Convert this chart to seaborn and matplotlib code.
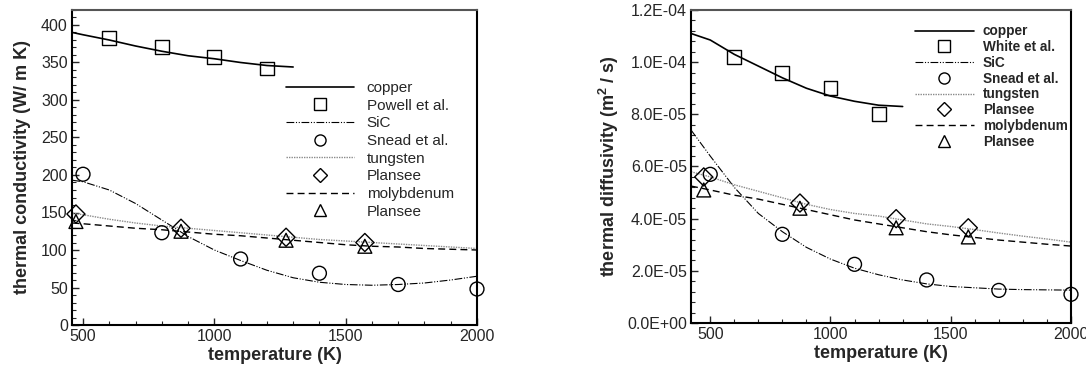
import numpy as np
import pandas as pd
import matplotlib
matplotlib.use("Agg")
import matplotlib.pyplot as plt
from matplotlib.lines import Line2D
from matplotlib.ticker import MultipleLocator, FuncFormatter
import seaborn as sns

# ---------------- data ----------------
# fitted curves
T_line = [460, 500, 600, 700, 800, 900, 1000, 1100, 1200, 1300, 1400, 1500, 1600, 1700, 1800, 1900, 2000]
T_cu = [460, 500, 600, 700, 800, 900, 1000, 1100, 1200, 1300]

k_copper = [390, 387, 380, 372, 365, 359, 355, 350, 346, 344]
k_sic = [193, 191, 180, 162, 140, 118, 100, 86, 73, 63, 57, 54, 53, 54, 56, 60, 65]
k_tungsten = [149, 147, 141, 136, 132, 129, 126, 123, 120, 117, 114, 112, 110, 108, 106, 104, 102]
k_moly = [136, 135, 132, 129, 127, 124, 121, 119, 116, 113, 110, 107, 105, 104, 102, 101, 100]

T_line_r = [420, 500, 600, 700, 800, 900, 1000, 1100, 1200, 1300, 1400, 1500, 1600, 1700, 1800, 1900, 2000]
T_cu_r = [420, 500, 600, 700, 800, 900, 1000, 1100, 1200, 1300]
a_copper = [111, 108.5, 103, 98.5, 94, 90, 87, 85, 83.5, 83]
a_sic = [74, 64, 52, 42, 35, 29, 24.5, 21, 18.5, 16.5, 15, 14, 13.5, 13, 12.8, 12.7, 12.6]
a_tungsten = [58, 56, 53, 50.5, 48, 45.5, 43.5, 42, 41, 39.5, 38, 37, 35.8, 34.5, 33.3, 32.2, 31]
a_moly = [52.5, 51, 49, 47.5, 45.5, 43.5, 41.5, 39.5, 38, 36.5, 35, 33.8, 32.8, 31.8, 31, 30.2, 29.5]

# measured points
T_cu_pts = [600, 800, 1000, 1200]
k_powell = [383, 371, 357, 342]
a_white = [102, 96, 90, 80]

T_sic_pts = [500, 800, 1100, 1400, 1700, 2000]
k_snead = [201, 123, 88, 69, 54, 48]
a_snead = [57, 34, 22.5, 16.5, 12.5, 11]

T_plansee = [473, 873, 1273, 1573]
k_plansee_w = [148, 129, 117, 110]
k_plansee_mo = [138, 125, 113, 105]
a_plansee_w = [56, 46, 40, 36.5]
a_plansee_mo = [51, 44, 36.5, 33]

scale_r = 1e-6

# ---------------- style ----------------
sns.set_theme(style="ticks")
plt.rcParams['font.family'] = ['Liberation Sans', 'DejaVu Sans']
plt.rcParams['mathtext.fontset'] = 'custom'
plt.rcParams['mathtext.rm'] = 'Liberation Sans'
plt.rcParams['mathtext.bf'] = 'Liberation Sans:bold'

LS_SIC = (0, (7, 1.5, 1, 1.5, 1, 1.5))
LS_W = (0, (1, 0.8))
LS_MO = (0, (5, 3))
W_COL = '#8a8a8a'

fig = plt.figure(figsize=(10.86, 3.65), dpi=100)
W, H = 1086, 365
axL = fig.add_axes([72 / W, (H - 325) / H, 405 / W, 315 / H])
axR = fig.add_axes([691 / W, (H - 323) / H, 380 / W, 313 / H])


def draw(ax, Tl, Tc, cu, sic, w, mo, Tcp, cup, Tsp, snead, Tp, pw, pmo, s=1.0):
    sns.lineplot(x=Tc, y=np.array(cu) * s, ax=ax, color='black', lw=1.2, linestyle='-')
    sns.lineplot(x=Tl, y=np.array(sic) * s, ax=ax, color='black', lw=0.8, linestyle=LS_SIC)
    sns.lineplot(x=Tl, y=np.array(w) * s, ax=ax, color=W_COL, lw=1.0, linestyle=LS_W)
    sns.lineplot(x=Tl, y=np.array(mo) * s, ax=ax, color='black', lw=1.0, linestyle=LS_MO)
    kw = dict(facecolor='none', edgecolor='black', linewidth=1.0, s=100, ax=ax, zorder=5, clip_on=False)
    sns.scatterplot(x=Tcp, y=np.array(cup) * s, marker='s', **kw)
    sns.scatterplot(x=Tsp, y=np.array(snead) * s, marker='o', **kw)
    sns.scatterplot(x=Tp, y=np.array(pw) * s, marker='D', **dict(kw, s=85))
    sns.scatterplot(x=Tp, y=np.array(pmo) * s, marker='^', **kw)


draw(axL, T_line, T_cu, k_copper, k_sic, k_tungsten, k_moly,
     T_cu_pts, k_powell, T_sic_pts, k_snead, T_plansee, k_plansee_w, k_plansee_mo)
draw(axR, T_line_r, T_cu_r, a_copper, a_sic, a_tungsten, a_moly,
     T_cu_pts, a_white, T_sic_pts, a_snead, T_plansee, a_plansee_w, a_plansee_mo, s=scale_r)

axL.set_xlim(458, 2000)
axL.set_ylim(0, 420)
axR.set_xlim(420, 2000)
axR.set_ylim(0, 1.2e-4)

for ax in (axL, axR):
    ax.xaxis.set_major_locator(MultipleLocator(500))
    ax.xaxis.set_minor_locator(MultipleLocator(100))
    ax.tick_params(which='both', direction='in', top=False, right=False, labelsize=11.5, pad=3)
    ax.tick_params(which='major', length=5, width=1)
    ax.tick_params(which='minor', length=3, width=0.8)
    for sp in ax.spines.values():
        sp.set_visible(True)
        sp.set_linewidth(1.5)
        sp.set_color('black')
    ax.spines['top'].set_color('#555555')
    ax.set_xlabel('temperature (K)', fontsize=13, fontweight='bold', labelpad=2)

axL.yaxis.set_major_locator(MultipleLocator(50))
axL.yaxis.set_minor_locator(MultipleLocator(10))
axR.yaxis.set_major_locator(MultipleLocator(2e-5))
axR.yaxis.set_minor_locator(MultipleLocator(4e-6))
axR.yaxis.set_major_formatter(FuncFormatter(lambda v, p: '%.1E' % v))

axL.set_ylabel('thermal conductivity (W/ m K)', fontsize=13, fontweight='bold', labelpad=7)
axR.set_ylabel(r'thermal diffusivity (m$^{\mathbf{2}}$ / s)', fontsize=13, fontweight='bold', labelpad=4)


def legend_handles():
    return [
        Line2D([], [], color='black', lw=1.2, linestyle='-'),
        Line2D([], [], color='none', marker='s', mfc='none', mec='black', ms=8),
        Line2D([], [], color='black', lw=0.8, linestyle=LS_SIC),
        Line2D([], [], color='none', marker='o', mfc='none', mec='black', ms=8),
        Line2D([], [], color=W_COL, lw=1.0, linestyle=LS_W),
        Line2D([], [], color='none', marker='D', mfc='none', mec='black', ms=7),
        Line2D([], [], color='black', lw=1.0, linestyle=LS_MO),
        Line2D([], [], color='none', marker='^', mfc='none', mec='black', ms=8),
    ]


labels_L = ['copper', 'Powell et al.', 'SiC', 'Snead et al.', 'tungsten', 'Plansee', 'molybdenum', 'Plansee']
labels_R = ['copper', 'White et al.', 'SiC', 'Snead et al.', 'tungsten', 'Plansee', 'molybdenum', 'Plansee']

legL = axL.legend(legend_handles(), labels_L, loc='upper left', bbox_to_anchor=(0.528, 0.775),
                  frameon=False, borderpad=0, borderaxespad=0, handlelength=4.45, handletextpad=0.85,
                  labelspacing=0.24, prop={'size': 11, 'weight': 'normal'})
legR = axR.legend(legend_handles(), labels_R, loc='upper left', bbox_to_anchor=(0.589, 0.954),
                  frameon=False, borderpad=0, borderaxespad=0, handlelength=4.34, handletextpad=0.66,
                  labelspacing=0.13, prop={'size': 9.8, 'weight': 'bold'})

fig.savefig('out.png', dpi=100)
